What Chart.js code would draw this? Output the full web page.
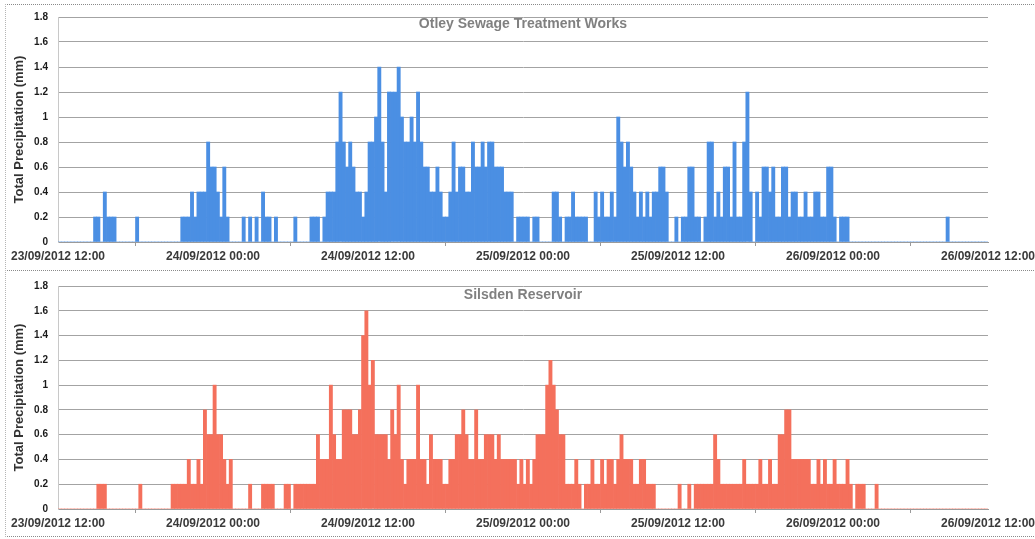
<!DOCTYPE html>
<html>
<head>
<meta charset="utf-8">
<title>Total precipitation 23-26/09/2012</title>
<script src="https://cdn.jsdelivr.net/npm/chart.js@4.4.1/dist/chart.umd.min.js"></script>
<style>
  html, body { margin: 0; padding: 0; background: #fff; }
  #page { position: relative; width: 1035px; height: 539px; overflow: hidden; }
  canvas { position: absolute; left: 0; }
  #otley { top: 0; }
  #silsden { top: 270px; }
  .frame { position: absolute; left: 5px; width: 1030px; border-top: 1px dotted #8a8a8a; border-left: 1px dotted #b5b5b5; pointer-events: none; }
</style>
</head>
<body>
<div id="page">
  <canvas id="otley" width="1035" height="270"></canvas>
  <canvas id="silsden" width="1035" height="269"></canvas>
  <div class="frame" style="top:4px;height:264px"></div>
  <div class="frame" style="top:270px;height:265px;border-bottom:1px dotted #8a8a8a"></div>
</div>
<script>
// 15-minute totals (mm), first interval starts 23/09/2012 12:00, 24 per row = 6 hours
const otleyMm = [
  0, 0, 0, 0, 0, 0, 0, 0, 0, 0, 0, 0.2, 0.2, 0, 0.4, 0.2, 0.2, 0.2, 0, 0, 0, 0, 0, 0,
  0.2, 0, 0, 0, 0, 0, 0, 0, 0, 0, 0, 0, 0, 0, 0.2, 0.2, 0.2, 0.4, 0.2, 0.4, 0.4, 0.4, 0.8, 0.6,
  0.6, 0.4, 0.2, 0.6, 0.2, 0, 0, 0, 0, 0.2, 0, 0.2, 0, 0.2, 0, 0.4, 0.2, 0.2, 0, 0.2, 0, 0, 0, 0,
  0, 0.2, 0, 0, 0, 0, 0.2, 0.2, 0.2, 0, 0.2, 0.4, 0.4, 0.4, 0.8, 1.2, 0.8, 0.6, 0.8, 0.6, 0.4, 0.4, 0.2, 0.4,
  0.8, 0.8, 1.0, 1.4, 0.8, 0.4, 1.2, 1.2, 1.2, 1.4, 1.0, 0.8, 0.8, 1.0, 0.8, 1.2, 0.8, 0.6, 0.6, 0.4, 0.4, 0.6, 0.4, 0.2,
  0.2, 0.4, 0.8, 0.4, 0.6, 0.6, 0.4, 0.4, 0.8, 0.6, 0.6, 0.8, 0.6, 0.8, 0.8, 0.6, 0.6, 0.6, 0.4, 0.4, 0.4, 0, 0.2, 0.2,
  0.2, 0.2, 0, 0.2, 0.2, 0, 0, 0, 0, 0.4, 0.4, 0.2, 0, 0.2, 0.2, 0.4, 0.2, 0.2, 0.2, 0.2, 0, 0, 0.4, 0.2,
  0.4, 0.2, 0.2, 0.4, 0.2, 1.0, 0.8, 0.6, 0.8, 0.6, 0.4, 0.2, 0.4, 0.2, 0.4, 0.2, 0.4, 0.4, 0.6, 0.6, 0.4, 0, 0, 0.2,
  0, 0.2, 0.2, 0.6, 0.6, 0.2, 0.2, 0, 0.2, 0.8, 0.8, 0.2, 0.4, 0.2, 0.6, 0.6, 0.2, 0.8, 0.2, 0.2, 0.8, 1.2, 0.4, 0,
  0.4, 0.2, 0.6, 0.6, 0.4, 0.6, 0.2, 0.2, 0.6, 0.6, 0.2, 0.4, 0.4, 0.2, 0.2, 0.4, 0.2, 0.2, 0.4, 0.4, 0.2, 0.2, 0.6, 0.6,
  0.2, 0, 0.2, 0.2, 0.2, 0, 0, 0, 0, 0, 0, 0, 0, 0, 0, 0, 0, 0, 0, 0, 0, 0, 0, 0,
  0, 0, 0, 0, 0, 0, 0, 0, 0, 0, 0, 0.2, 0, 0, 0, 0, 0, 0, 0, 0, 0, 0, 0, 0,
];

const silsdenMm = [
  0, 0, 0, 0, 0, 0, 0, 0, 0, 0, 0, 0, 0.2, 0.2, 0.2, 0, 0, 0, 0, 0, 0, 0, 0, 0,
  0, 0.2, 0, 0, 0, 0, 0, 0, 0, 0, 0, 0.2, 0.2, 0.2, 0.2, 0.2, 0.4, 0.2, 0.2, 0.4, 0.2, 0.8, 0.6, 0.6,
  1.0, 0.6, 0.6, 0.4, 0.2, 0.4, 0, 0, 0, 0, 0, 0.2, 0, 0, 0, 0.2, 0.2, 0.2, 0.2, 0, 0, 0, 0.2, 0.2,
  0, 0.2, 0.2, 0.2, 0.2, 0.2, 0.2, 0.2, 0.6, 0.4, 0.4, 0.4, 1.0, 0.6, 0.4, 0.4, 0.8, 0.8, 0.8, 0.6, 0.6, 0.8, 1.4, 1.6,
  1.0, 1.2, 0.6, 0.6, 0.6, 0.6, 0.4, 0.8, 0.6, 1.0, 0.4, 0.2, 0.4, 0.4, 0.4, 1.0, 0.4, 0.4, 0.2, 0.6, 0.4, 0.4, 0.4, 0.2,
  0.2, 0.4, 0.4, 0.6, 0.6, 0.8, 0.6, 0.4, 0.4, 0.8, 0.4, 0.4, 0.6, 0.6, 0.6, 0.4, 0.6, 0.4, 0.4, 0.4, 0.4, 0.4, 0.2, 0.4,
  0.2, 0.4, 0.2, 0.4, 0.6, 0.6, 0.6, 1.0, 1.2, 1.0, 0.8, 0.6, 0.6, 0.2, 0.2, 0.2, 0.4, 0.2, 0, 0.2, 0.2, 0.4, 0.2, 0.2,
  0.4, 0.2, 0.4, 0.4, 0.2, 0.4, 0.6, 0.4, 0.4, 0.4, 0.2, 0.2, 0.4, 0.4, 0.2, 0.2, 0.2, 0, 0, 0, 0, 0, 0, 0,
  0.2, 0, 0, 0.2, 0, 0.2, 0.2, 0.2, 0.2, 0.2, 0.2, 0.6, 0.4, 0.2, 0.2, 0.2, 0.2, 0.2, 0.2, 0.2, 0.4, 0.2, 0.2, 0.2,
  0.2, 0.4, 0.2, 0.2, 0.4, 0.2, 0.2, 0.6, 0.6, 0.8, 0.8, 0.4, 0.4, 0.4, 0.4, 0.4, 0.4, 0.2, 0.2, 0.4, 0.2, 0.4, 0.2, 0.2,
  0.4, 0.2, 0.2, 0.2, 0.4, 0.2, 0, 0.2, 0.2, 0.2, 0, 0, 0, 0.2, 0, 0, 0, 0, 0, 0, 0, 0, 0, 0,
  0, 0, 0, 0, 0, 0, 0, 0, 0, 0, 0, 0, 0, 0, 0, 0, 0, 0, 0, 0, 0, 0, 0, 0,
];

const tickLabels = [
  '23/09/2012 12:00', '24/09/2012 00:00', '24/09/2012 12:00', '25/09/2012 00:00',
  '25/09/2012 12:00', '26/09/2012 00:00', '26/09/2012 12:00',
];
const stepHours = 0.25;
const fontFamily = '"Liberation Sans", Arial, sans-serif';

// chart title sits inside the plot area, like the original
const insideTitle = {
  id: 'insideTitle',
  afterDatasetsDraw(chart, args, opts) {
    const {ctx, chartArea} = chart;
    ctx.save();
    ctx.font = 'bold 14px ' + fontFamily;
    ctx.fillStyle = '#808080';
    ctx.textAlign = 'center';
    ctx.textBaseline = 'middle';
    ctx.fillText(opts.text, (chartArea.left + chartArea.right) / 2, chartArea.top + opts.offset);
    ctx.restore();
  },
};

function precipChart(id, values, colour, title, padTop, axisHeight, titleOffset) {
  return new Chart(document.getElementById(id), {
    type: 'bar',
    data: {
      datasets: [{
        data: values.map((v, i) => ({x: i * stepHours + stepHours / 2, y: v})),
        backgroundColor: colour,
        borderWidth: 0,
        barPercentage: 1,
        categoryPercentage: 1,
      }],
    },
    options: {
      responsive: false,
      animation: false,
      layout: {padding: {top: padTop, right: 47, bottom: 0, left: 0}},
      plugins: {
        legend: {display: false},
        tooltip: {enabled: false},
        insideTitle: {text: title, offset: titleOffset},
      },
      scales: {
        x: {
          type: 'linear',
          min: 0,
          max: 72,
          offset: false,
          grid: {drawOnChartArea: false, drawTicks: true, tickLength: 4, color: '#9a9a9a'},
          border: {color: '#9a9a9a'},
          ticks: {
            stepSize: 12,
            autoSkip: false,
            maxRotation: 0,
            padding: 3,
            color: '#3a3a3a',
            font: {family: fontFamily, size: 12, weight: 'bold'},
            callback: v => tickLabels[v / 12],
          },
          afterFit: s => {
            s.height = axisHeight;
            s.paddingLeft = 0;
            s.paddingRight = 0;
          },
        },
        y: {
          min: 0,
          max: 1.8,
          grid: {color: '#a3a3a3', drawTicks: false},
          border: {color: '#c8c8c8'},
          ticks: {
            stepSize: 0.2,
            padding: 10,
            color: '#1a1a1a',
            font: {family: fontFamily, size: 10, weight: 'bold'},
            callback: v => String(Math.round(v * 10) / 10),
          },
          title: {
            display: true,
            text: 'Total Precipitation (mm)',
            color: '#333',
            font: {family: fontFamily, size: 13, weight: 'bold'},
            padding: {top: 12, bottom: 0},
          },
          afterFit: s => { s.width = 58; },
        },
      },
    },
    plugins: [insideTitle],
  });
}

precipChart('otley', otleyMm, '#4b8fe3', 'Otley Sewage Treatment Works', 17, 28, 7);
precipChart('silsden', silsdenMm, '#f4705c', 'Silsden Reservoir', 13, 30, 9);
</script>
</body>
</html>
